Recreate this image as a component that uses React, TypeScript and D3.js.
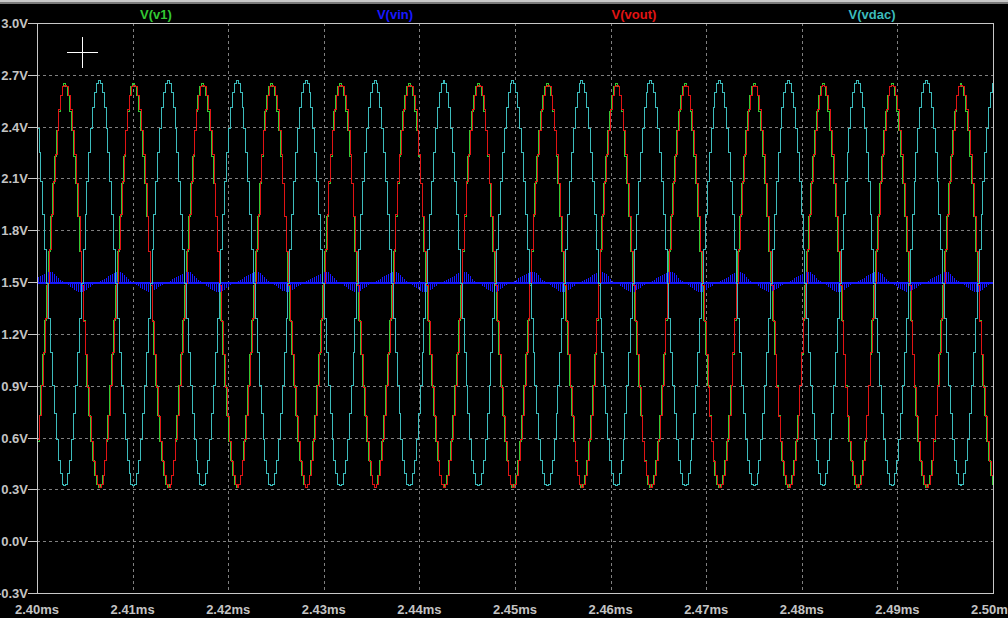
import * as d3 from 'd3'

// red-peak times of each cycle (ms)
const cycleStarts = [
  2.39561, 2.40282, 2.41003, 2.41724, 2.42445, 2.43166, 2.43887, 2.44608,
  2.45329, 2.4605, 2.46771, 2.47492, 2.48213, 2.48934, 2.49655, 2.50376
]

// one cycle of each trace, 36 steps, starting at the V(vout) peak
const v1Cycle = [
  2.65, 2.63, 2.58, 2.49, 2.38, 2.23, 2.07, 1.88, 1.68, 1.48, 1.28, 1.08,
  0.9, 0.73, 0.58, 0.47, 0.38, 0.33, 0.31, 0.33, 0.38, 0.47, 0.58, 0.73,
  0.9, 1.08, 1.28, 1.48, 1.68, 1.88, 2.07, 2.23, 2.38, 2.49, 2.58, 2.63
]
const voutCycle = [
  2.64, 2.63, 2.58, 2.5, 2.38, 2.24, 2.07, 1.88, 1.68, 1.48, 1.27, 1.08,
  0.89, 0.72, 0.58, 0.46, 0.38, 0.33, 0.31, 0.33, 0.38, 0.47, 0.59, 0.73,
  0.9, 1.09, 1.29, 1.49, 1.69, 1.89, 2.08, 2.24, 2.38, 2.5, 2.58, 2.63
]
const vdacCycle = [
  0.32, 0.33, 0.39, 0.47, 0.59, 0.74, 0.9, 1.09, 1.29, 1.49, 1.69, 1.89,
  2.08, 2.25, 2.39, 2.51, 2.6, 2.65, 2.665, 2.65, 2.6, 2.51, 2.39, 2.25,
  2.08, 1.89, 1.69, 1.49, 1.29, 1.09, 0.9, 0.74, 0.59, 0.47, 0.39, 0.33
]
// V(vin) ripple envelope around its 1.5V level
const vinLevel = 1.5
const vinEnvelope = [
  0, -0.012, -0.025, -0.037, -0.048, -0.056, -0.06, -0.052, -0.042, -0.03,
  -0.018, -0.008, 0, 0.008, 0.018, 0.028, 0.038, 0.047, 0.055, 0.06, 0.058,
  0.045, 0.025, 0.008
]
const voutLag = 0.00008
const v1Lag = 0

const yTicks = [-0.3, 0, 0.3, 0.6, 0.9, 1.2, 1.5, 1.8, 2.1, 2.4, 2.7, 3.0]
const xTicks = [2.4, 2.41, 2.42, 2.43, 2.44, 2.45, 2.46, 2.47, 2.48, 2.49, 2.5]

const traces = [
  { name: 'V(v1)', color: '#33c833', lx: 156 },
  { name: 'V(vin)', color: '#1818ff', lx: 395 },
  { name: 'V(vout)', color: '#e01414', lx: 634 },
  { name: 'V(vdac)', color: '#3cbcbc', lx: 872 }
]

const W = 1008
const H = 618
const left = 37
const right = 993
const top = 23
const bottom = 593

const x = d3.scaleLinear().domain([2.4, 2.5]).range([left, right])
const y = d3.scaleLinear().domain([-0.3, 3.0]).range([bottom, top])

const cyclePoints = (cycle: number[], lag: number) => {
  const pts: [number, number][] = []
  for (let i = 0; i < cycleStarts.length - 1; i++) {
    const t0 = cycleStarts[i]
    const t1 = cycleStarts[i + 1]
    cycle.forEach((v, k) => pts.push([t0 + ((t1 - t0) * k) / cycle.length + lag, v]))
  }
  pts.push([cycleStarts[cycleStarts.length - 1] + lag, cycle[0]])
  return pts
}

const stepLine = d3
  .line<[number, number]>()
  .x((d) => x(d[0]))
  .y((d) => y(d[1]))
  .curve(d3.curveStepAfter)

const vinArea = d3
  .area<[number, number]>()
  .x((d) => x(d[0]))
  .y0(y(vinLevel))
  .y1((d) => y(vinLevel + d[1]))

const font = "'Liberation Sans', Arial, sans-serif"
const labelColor = '#c4c4c4'

export default function App() {
  const v1Path = stepLine(cyclePoints(v1Cycle, v1Lag)) || ''
  const voutPath = stepLine(cyclePoints(voutCycle, voutLag)) || ''
  const vdacPath = stepLine(cyclePoints(vdacCycle, 0)) || ''
  const vinPath = vinArea(cyclePoints(vinEnvelope, 0)) || ''

  return (
    <svg
      width={W}
      height={H}
      style={{ position: 'absolute', left: 0, top: 0, display: 'block' }}
    >
      <defs>
        <clipPath id='plot'>
          <rect x={left} y={top} width={right - left} height={bottom - top} />
        </clipPath>
        <pattern id='hatch' patternUnits='userSpaceOnUse' width={2} height={8}>
          <rect x={0} y={0} width={1} height={8} fill='#1818ff' />
        </pattern>
      </defs>
      <rect x={0} y={0} width={W} height={H} fill='#000' />
      <rect x={0} y={0} width={W} height={2} fill='#c8c8c8' />
      <rect x={0} y={2} width={W} height={2} fill='#7a7a7a' />

      {/* grid */}
      <g stroke='#808080' strokeWidth={1} strokeDasharray='3,3' shapeRendering='crispEdges'>
        {yTicks.slice(1, -1).map((t) => (
          <line key={'gy' + t} x1={left} x2={right} y1={Math.round(y(t)) + 0.5} y2={Math.round(y(t)) + 0.5} />
        ))}
        {xTicks.slice(1, -1).map((t) => (
          <line key={'gx' + t} x1={Math.round(x(t)) + 0.5} x2={Math.round(x(t)) + 0.5} y1={top} y2={bottom} />
        ))}
      </g>

      {/* traces */}
      <g clipPath='url(#plot)' fill='none' strokeWidth={1} shapeRendering='crispEdges'>
        <path d={v1Path} stroke={traces[0].color} />
        <path d={vinPath} fill='url(#hatch)' stroke='none' />
        <line
          x1={left}
          x2={right}
          y1={Math.round(y(vinLevel)) + 0.5}
          y2={Math.round(y(vinLevel)) + 0.5}
          stroke={traces[1].color}
          strokeWidth={2}
        />
        <path d={voutPath} stroke={traces[2].color} />
        <path d={vdacPath} stroke={traces[3].color} />
      </g>

      {/* frame */}
      <rect
        x={left + 0.5}
        y={top + 0.5}
        width={right - left}
        height={bottom - top}
        fill='none'
        stroke='#c8c8c8'
        shapeRendering='crispEdges'
      />

      {/* y axis */}
      {yTicks.map((t) => (
        <g key={'y' + t}>
          <line
            x1={28}
            x2={left}
            y1={Math.round(y(t)) + 0.5}
            y2={Math.round(y(t)) + 0.5}
            stroke='#c8c8c8'
            shapeRendering='crispEdges'
          />
          <text
            x={28}
            y={y(t) + 5}
            textAnchor='end'
            fontFamily={font}
            fontWeight='bold'
            fontSize={13}
            fill={labelColor}
          >
            {t.toFixed(1) + 'V'}
          </text>
        </g>
      ))}

      {/* x axis */}
      {xTicks.map((t) => (
        <text
          key={'x' + t}
          x={x(t)}
          y={614}
          textAnchor='middle'
          fontFamily={font}
          fontWeight='bold'
          fontSize={13}
          fill={labelColor}
        >
          {t.toFixed(2) + 'ms'}
        </text>
      ))}

      {/* legend */}
      {traces.map((s) => (
        <text
          key={s.name}
          x={s.lx}
          y={19}
          textAnchor='middle'
          fontFamily={font}
          fontWeight='bold'
          fontSize={13}
          fill={s.color}
        >
          {s.name}
        </text>
      ))}

      {/* cursor cross */}
      <g stroke='#fff' strokeWidth={1} shapeRendering='crispEdges'>
        <line x1={67} x2={98} y1={52.5} y2={52.5} />
        <line x1={82.5} x2={82.5} y1={37} y2={68} />
      </g>
    </svg>
  )
}
